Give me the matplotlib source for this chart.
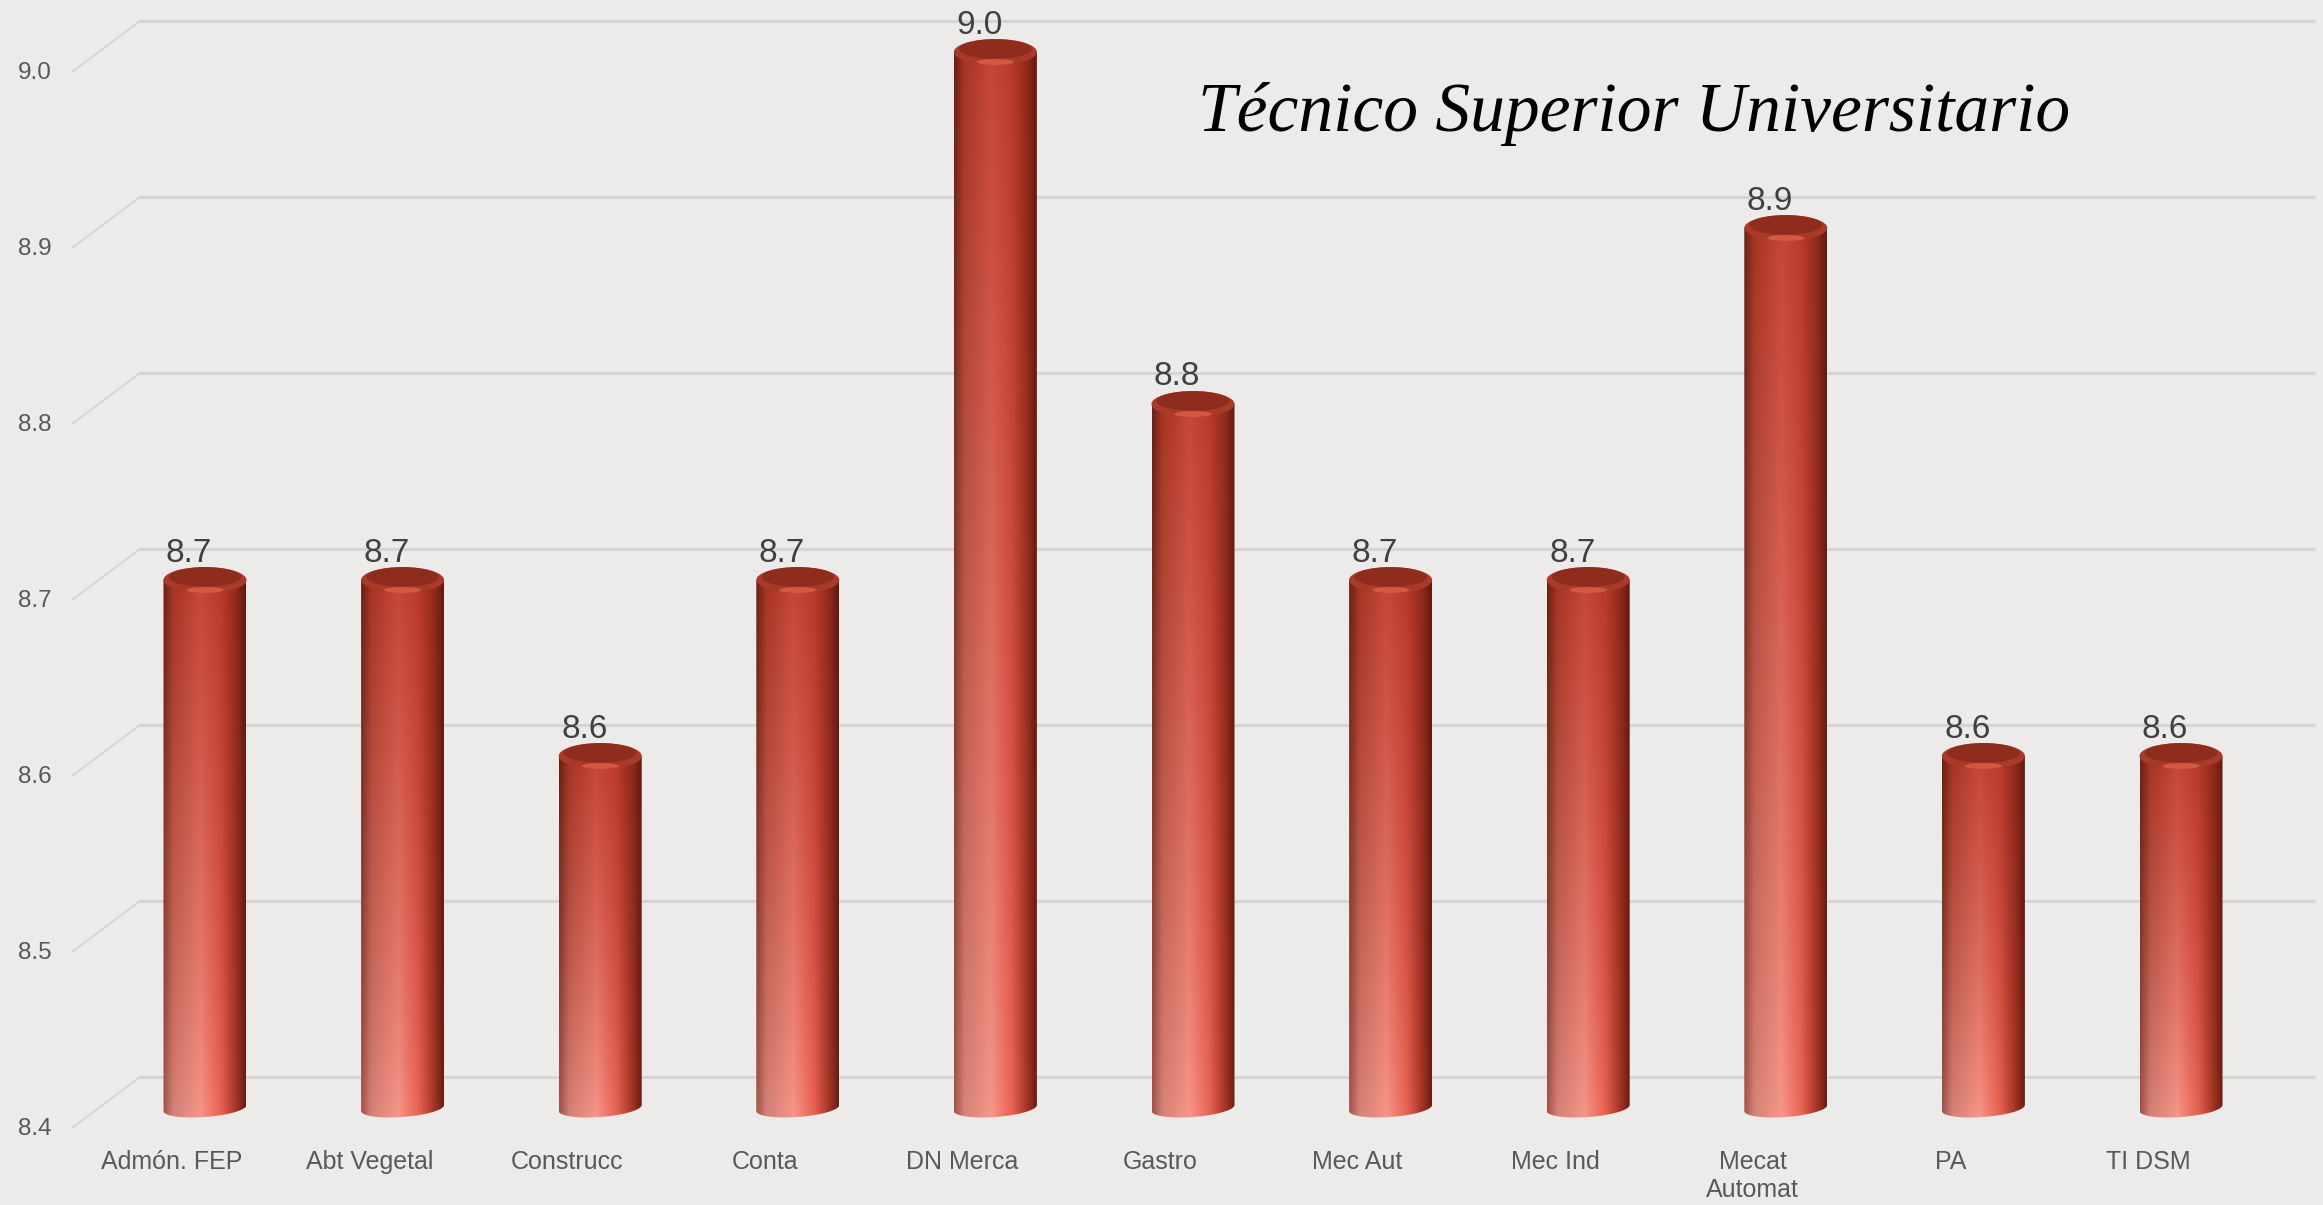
import matplotlib.pyplot as plt
import matplotlib.transforms as mtransforms
from matplotlib.patches import Ellipse, PathPatch
from matplotlib.path import Path
import numpy as np

# data
categorias = ['Admón. FEP', 'Abt Vegetal', 'Construcc', 'Conta', 'DN Merca', 'Gastro',
              'Mec Aut', 'Mec Ind', 'Mecat\nAutomat', 'PA', 'TI DSM']
valores = [8.7, 8.7, 8.6, 8.7, 9.0, 8.8, 8.7, 8.7, 8.9, 8.6, 8.6]
ticks_y = [8.4, 8.5, 8.6, 8.7, 8.8, 8.9, 9.0]
titulo = 'Técnico Superior Universitario'

BG = '#ecebe9'
GRID = '#d6d5d3'
BASE = 8.4
PX_X = 197.6   # pixels per category
PX_Y = 1760.0  # pixels per unit of value


def bar_colors(nx=80, ny=240):
    u = np.linspace(0, 1, nx)
    t = np.linspace(0, 1, ny)
    keys = [0, 0.12, 0.45, 0.7, 0.9, 1.0]
    top = np.array([(105, 33, 20), (165, 52, 36), (198, 70, 54),
                    (185, 58, 42), (140, 40, 26), (98, 27, 17)]) / 255
    bot = np.array([(165, 85, 78), (214, 132, 122), (247, 152, 140),
                    (234, 100, 84), (160, 50, 35), (105, 30, 20)]) / 255
    rt = np.stack([np.interp(u, keys, top[:, c]) for c in range(3)], axis=-1)
    rb = np.stack([np.interp(u, keys, bot[:, c]) for c in range(3)], axis=-1)
    w = (t ** 0.8)[:, None, None]
    return rb[None] * (1 - w) + rt[None] * w


def main():
    fig = plt.figure(figsize=(23.23, 12.05), dpi=100, facecolor=BG)
    ax = fig.add_axes([0, 0, 1, 1])
    ax.set_facecolor(BG)
    ax.set_axis_off()

    xlim = (-205 / PX_X, (2323 - 205) / PX_X)
    ylim = (8.7 - 625 / PX_Y, 8.7 + 580 / PX_Y)

    def off(dx, dy):
        return mtransforms.offset_copy(ax.transData, fig=fig, x=dx, y=dy, units='dots')

    # back wall gridlines and slanted side lines
    x_back0 = (140 - 205) / PX_X
    x_back1 = (2315 - 205) / PX_X
    x_front = (72 - 205) / PX_X
    ax.hlines(ticks_y, x_back0, x_back1, colors=GRID, lw=2.2, transform=off(0, 31), zorder=1)
    for v in ticks_y:
        ax.plot([x_front, x_back0], [v - 20 / PX_Y, v + 31 / PX_Y],
                color=GRID, lw=1.4, zorder=1)
        ax.text(x_front - 20 / PX_X, v, f'{v:.1f}', ha='right', va='center',
                fontsize=17.5, color='#595959', family='Liberation Sans',
                transform=off(0, -21))

    img = bar_colors()
    half_w = 41.5 / PX_X
    b_bot = 9 / PX_Y
    b_top = 13 / PX_Y
    theta = np.linspace(np.pi, 2 * np.pi, 60)
    for i, v in enumerate(valores):
        x0, x1 = i - half_w, i + half_w
        im = ax.imshow(img, extent=[x0, x1, BASE - 1.6 * b_bot, v], origin='lower',
                       aspect='auto', interpolation='bilinear', zorder=3)
        ex = i + half_w * np.cos(theta)
        ey = BASE + b_bot * np.sin(theta) + (3 / PX_Y) * np.cos(theta)
        verts = list(zip(ex, ey)) + [(x1, v), (x0, v), (ex[0], ey[0])]
        codes = [Path.MOVETO] + [Path.LINETO] * (len(verts) - 2) + [Path.CLOSEPOLY]
        clip = PathPatch(Path(verts, codes), facecolor='none', edgecolor='none')
        ax.add_patch(clip)
        im.set_clip_path(clip)
        # top cap
        ax.add_patch(Ellipse((i, v), 2 * half_w, 2 * b_top, facecolor='#a83a29',
                             edgecolor='none', zorder=4))
        ax.add_patch(Ellipse((i, v + 3 / PX_Y), 1.75 * half_w, 1.5 * b_top,
                             facecolor='#8c2b1d', edgecolor='none', alpha=0.9, zorder=5))
        ax.add_patch(Ellipse((i, v - 10 / PX_Y), 0.9 * half_w, 6 / PX_Y,
                             facecolor='#e2624d', edgecolor='none', alpha=0.75, zorder=5))
        ax.text(i, v, f'{v:.1f}', ha='center', va='center', fontsize=24,
                color='#404040', family='Liberation Sans', transform=off(-16, 27), zorder=6)
        ax.text(i, BASE, categorias[i], ha='center', va='top', fontsize=18,
                color='#595959', family='Liberation Sans', transform=off(-33, -42),
                linespacing=1.2)

    ax.text(xlim[0] + 1198 / PX_X, ylim[1] - 131 / PX_Y, titulo, ha='left', va='baseline',
            fontsize=50, style='italic', family='Liberation Serif', color='black')

    ax.set_xlim(*xlim)
    ax.set_ylim(*ylim)
    fig.savefig('out.png', dpi=100, facecolor=BG)


if __name__ == '__main__':
    main()
